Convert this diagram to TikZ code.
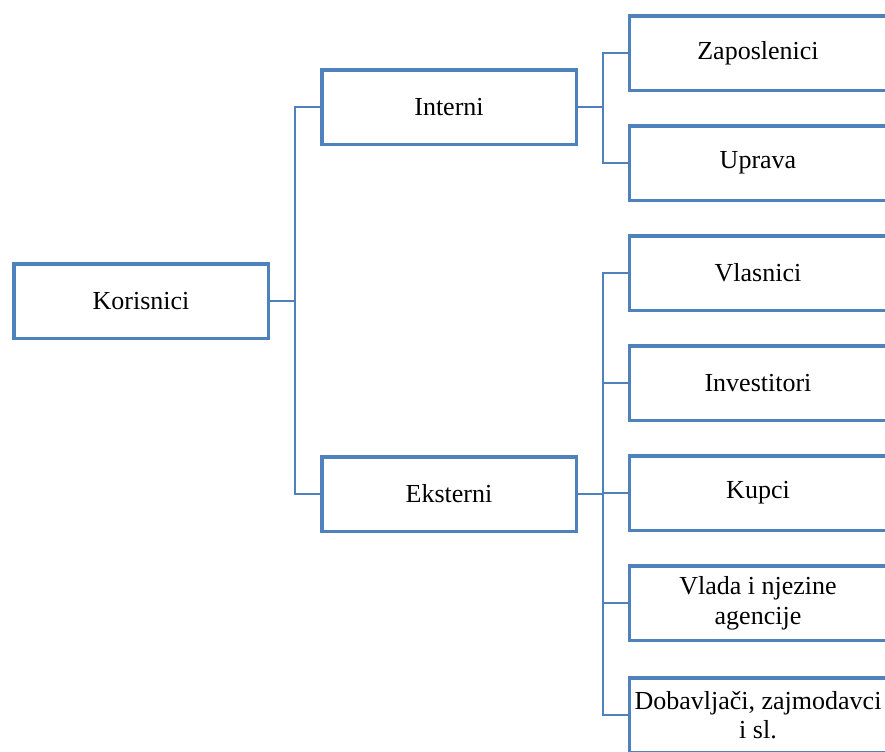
\documentclass[tikz,border=0pt]{standalone}
\usepackage{fontspec}
\setmainfont{Liberation Serif}
\definecolor{boxblue}{RGB}{79,129,189}
\begin{document}
\begin{tikzpicture}[x=0.5pt,y=-0.5pt,
  box/.style={draw=boxblue, line width=1.75pt, fill=white, minimum width=127.25pt, minimum height=37.25pt, align=center, inner sep=0pt, font=\fontsize{13}{14.8}\selectfont},
  rbox/.style={box, minimum width=128.5pt},
  link/.style={draw=boxblue, line width=1.25pt}]
\useasboundingbox (0,0) rectangle (885,751);
\node[box] (k) at (141,301) {Korisnici};
\node[box] (i) at (449,107) {Interni};
\node[box] (e) at (449,494) {Eksterni};
\node[rbox] (z) at (758,53) {Zaposlenici};
\node[rbox] (u) at (758,163) {Uprava};
\node[rbox] (v) at (758,273) {Vlasnici};
\node[rbox] (inv) at (758,383) {Investitori};
\node[rbox] (ku) at (758,493) {Kupci};
\node[rbox] (vl) at (758,603) {Vlada i njezine\\agencije};
\node[rbox] (d) at (758,715) {Dobavljači, zajmodavci\\i sl.};
\draw[link] (k.east) -- ++(25,0) coordinate (kj) |- (i.west);
\draw[link] (kj) |- (e.west);
\draw[link] (i.east) -- ++(25,0) coordinate (ij) |- (z.west);
\draw[link] (ij) |- (u.west);
\draw[link] (e.east) -- ++(25,0) coordinate (ej) |- (v.west);
\draw[link] (ej) |- (inv.west);
\draw[link] (ej) |- (ku.west);
\draw[link] (ej) |- (vl.west);
\draw[link] (ej) |- (d.west);
\end{tikzpicture}
\end{document}
